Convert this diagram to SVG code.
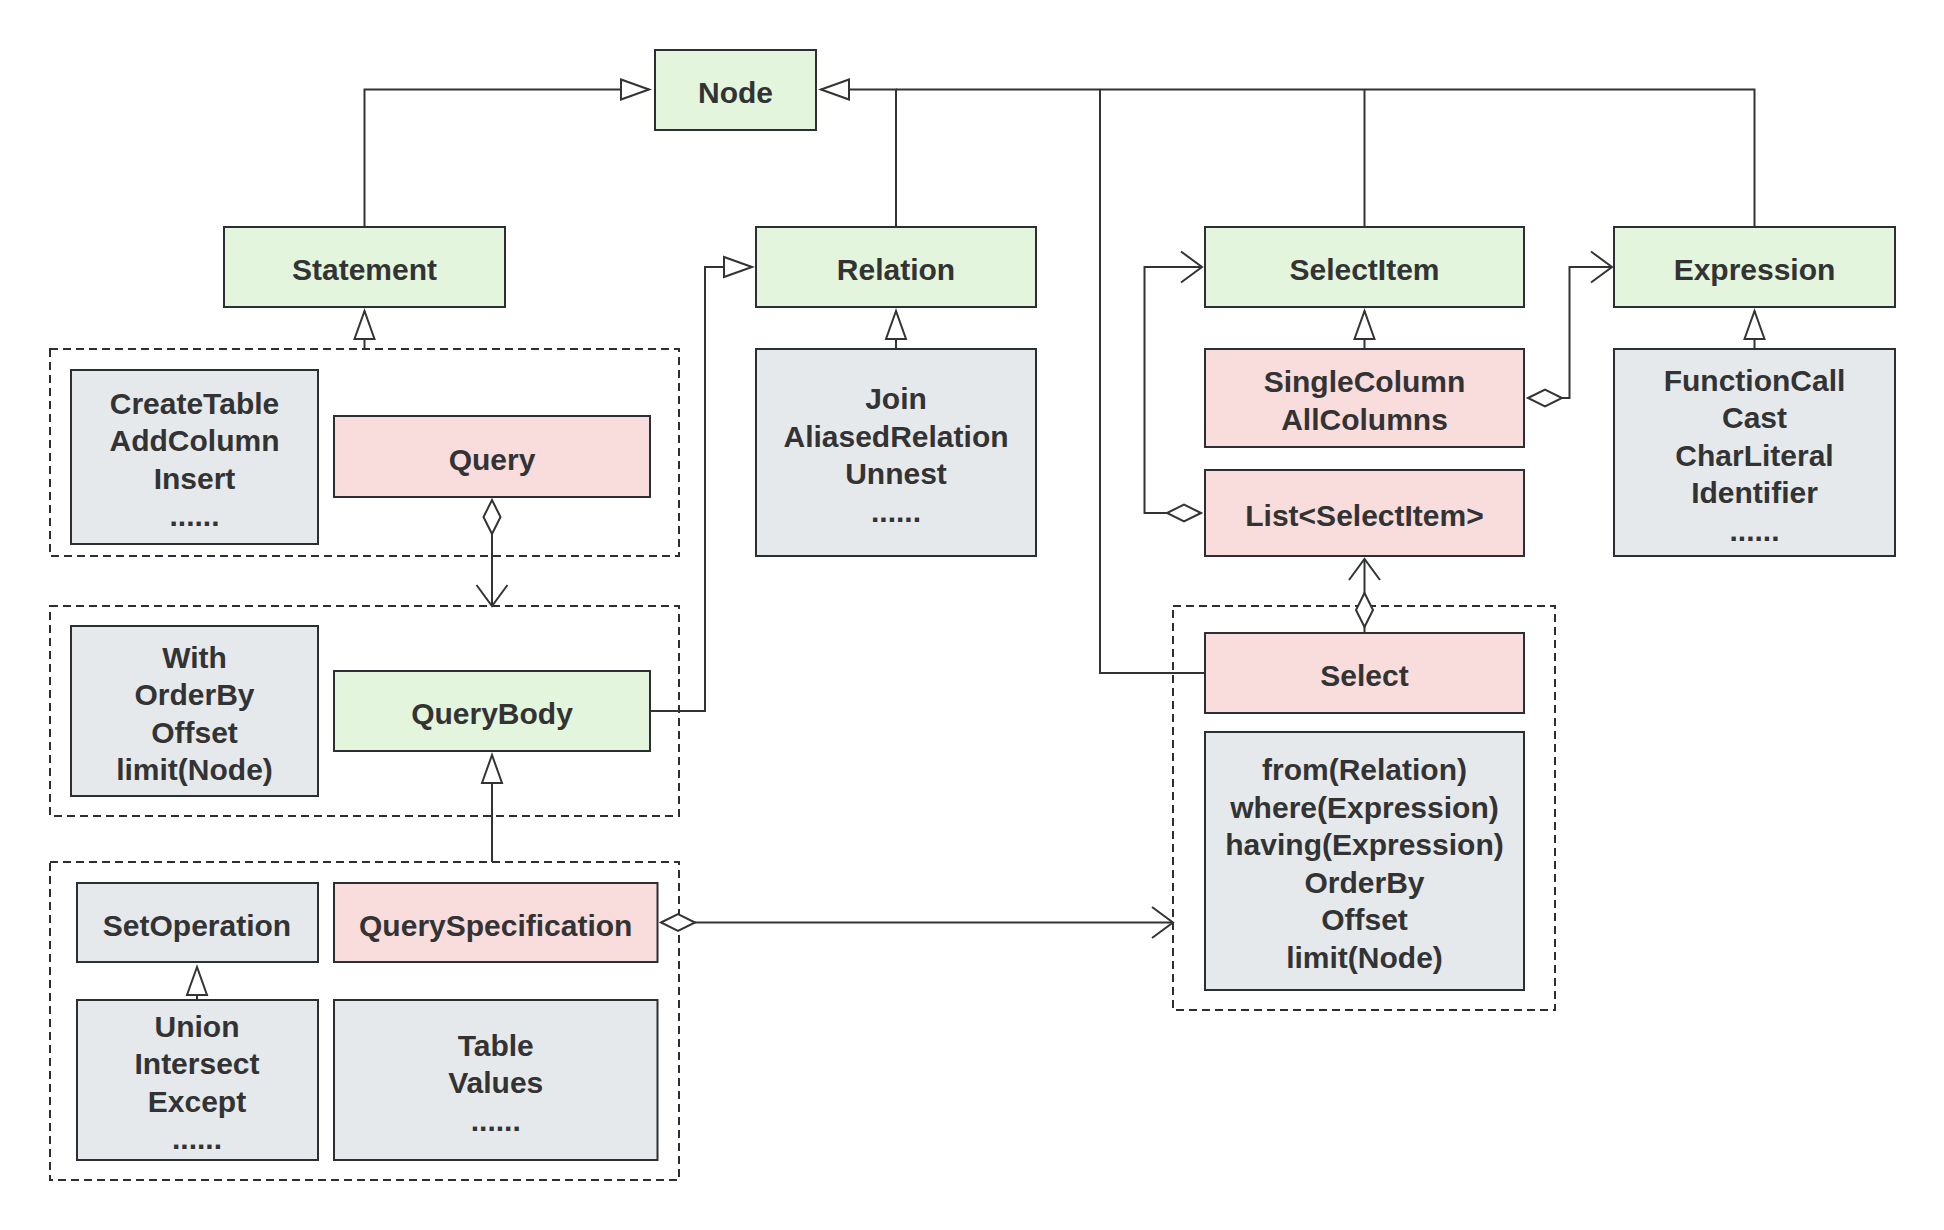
<svg xmlns="http://www.w3.org/2000/svg" width="1944" height="1230" viewBox="0 0 1944 1230">
  <style>
    .box { stroke: #2b2f33; stroke-width: 2; }
    .green { fill: #e3f5dc; }
    .pink { fill: #f9dcdc; }
    .grey { fill: #e6e9ec; }
    .group { fill: none; stroke: #2b2f33; stroke-width: 2; stroke-dasharray: 8 5; }
    text { font-family: "Liberation Sans", Arial, sans-serif; font-weight: bold; font-size: 30px; fill: #333333; text-anchor: middle; }
    .conn { fill: none; stroke: #333333; stroke-width: 2; }
  </style>
  <defs>
    <marker id="tri" markerUnits="userSpaceOnUse" orient="auto" refX="0" refY="0" markerWidth="40" markerHeight="40" overflow="visible">
      <polygon points="0,0 -28,-10 -28,10" fill="#ffffff" stroke="#333333" stroke-width="2" stroke-linejoin="miter"/>
    </marker>
    <marker id="open" markerUnits="userSpaceOnUse" orient="auto" refX="0" refY="0" markerWidth="40" markerHeight="40" overflow="visible">
      <polyline points="-21,-15.5 0,0 -21,15.5" fill="none" stroke="#333333" stroke-width="2"/>
    </marker>
    <marker id="diamond" markerUnits="userSpaceOnUse" orient="auto" refX="0" refY="0" markerWidth="40" markerHeight="40" overflow="visible">
      <polygon points="0,0 17,-8.5 34,0 17,8.5" fill="#ffffff" stroke="#333333" stroke-width="2"/>
    </marker>
  </defs>
  <rect width="1944" height="1230" fill="#ffffff"/>

  <!-- dashed containers -->
  <g id="group-statement"><rect class="group" x="50" y="349" width="629" height="207"/></g>
  <g id="group-querybody"><rect class="group" x="50" y="606" width="629" height="210"/></g>
  <g id="group-queryspec"><rect class="group" x="50" y="862" width="629" height="318"/></g>
  <g id="group-select"><rect class="group" x="1173" y="606" width="382" height="404"/></g>

  <!-- connectors -->
  <g id="connectors">
    <path class="conn" d="M364.5,227 V89.5 H649" marker-end="url(#tri)"/>
    <path class="conn" d="M896,227 V89.5 H821" marker-end="url(#tri)"/>
    <path class="conn" d="M1754.5,227 V89.5 H896"/>
    <path class="conn" d="M1364.5,227 V89.5"/>
    <path class="conn" d="M1205,673 H1100 V89.5"/>
    <path class="conn" d="M364.5,349 V311" marker-end="url(#tri)"/>
    <path class="conn" d="M896,349 V311" marker-end="url(#tri)"/>
    <path class="conn" d="M1364.5,349 V311" marker-end="url(#tri)"/>
    <path class="conn" d="M1754.5,349 V311" marker-end="url(#tri)"/>
    <path class="conn" d="M492,862 V755" marker-end="url(#tri)"/>
    <path class="conn" d="M197,1000 V967" marker-end="url(#tri)"/>
    <path class="conn" d="M650,711 H705 V267 H752" marker-end="url(#tri)"/>
    <path class="conn" d="M492,500 V606" marker-start="url(#diamond)" marker-end="url(#open)"/>
    <path class="conn" d="M661,922.5 H1173" marker-start="url(#diamond)" marker-end="url(#open)"/>
    <path class="conn" d="M1528,398 H1569.5 V267 H1612" marker-start="url(#diamond)" marker-end="url(#open)"/>
    <path class="conn" d="M1201,513 H1144.5 V267 H1202" marker-start="url(#diamond)" marker-end="url(#open)"/>
    <path class="conn" d="M1364.5,633 V627"/>
    <path class="conn" d="M1364.5,627 V559" marker-start="url(#diamond)" marker-end="url(#open)"/>
  </g>

  <!-- nodes -->
  <g id="node-Node">
    <rect class="box green" x="655" y="50" width="161" height="80"/>
    <text x="735.5" y="103">Node</text>
  </g>
  <g id="node-Statement">
    <rect class="box green" x="224" y="227" width="281" height="80"/>
    <text x="364.5" y="280">Statement</text>
  </g>
  <g id="node-Relation">
    <rect class="box green" x="756" y="227" width="280" height="80"/>
    <text x="896" y="280">Relation</text>
  </g>
  <g id="node-SelectItem">
    <rect class="box green" x="1205" y="227" width="319" height="80"/>
    <text x="1364.5" y="280">SelectItem</text>
  </g>
  <g id="node-Expression">
    <rect class="box green" x="1614" y="227" width="281" height="80"/>
    <text x="1754.5" y="280">Expression</text>
  </g>
  <g id="node-StatementKinds">
    <rect class="box grey" x="71" y="370" width="247" height="174"/>
    <text x="194.5" y="413.75">CreateTable</text>
    <text x="194.5" y="451.25">AddColumn</text>
    <text x="194.5" y="488.75">Insert</text>
    <text x="194.5" y="526.25">......</text>
  </g>
  <g id="node-Query">
    <rect class="box pink" x="334" y="416" width="316" height="81"/>
    <text x="492" y="469.5">Query</text>
  </g>
  <g id="node-RelationKinds">
    <rect class="box grey" x="756" y="349" width="280" height="207"/>
    <text x="896" y="409.25">Join</text>
    <text x="896" y="446.75">AliasedRelation</text>
    <text x="896" y="484.25">Unnest</text>
    <text x="896" y="521.75">......</text>
  </g>
  <g id="node-SingleColumn">
    <rect class="box pink" x="1205" y="349" width="319" height="98"/>
    <text x="1364.5" y="392.25">SingleColumn</text>
    <text x="1364.5" y="429.75">AllColumns</text>
  </g>
  <g id="node-ListSelectItem">
    <rect class="box pink" x="1205" y="470" width="319" height="86"/>
    <text x="1364.5" y="526">List&lt;SelectItem&gt;</text>
  </g>
  <g id="node-ExpressionKinds">
    <rect class="box grey" x="1614" y="349" width="281" height="207"/>
    <text x="1754.5" y="390.5">FunctionCall</text>
    <text x="1754.5" y="428">Cast</text>
    <text x="1754.5" y="465.5">CharLiteral</text>
    <text x="1754.5" y="503">Identifier</text>
    <text x="1754.5" y="540.5">......</text>
  </g>
  <g id="node-QueryParts">
    <rect class="box grey" x="71" y="626" width="247" height="170"/>
    <text x="194.5" y="667.75">With</text>
    <text x="194.5" y="705.25">OrderBy</text>
    <text x="194.5" y="742.75">Offset</text>
    <text x="194.5" y="780.25">limit(Node)</text>
  </g>
  <g id="node-QueryBody">
    <rect class="box green" x="334" y="671" width="316" height="80"/>
    <text x="492" y="724">QueryBody</text>
  </g>
  <g id="node-SetOperation">
    <rect class="box grey" x="77" y="883" width="241" height="79"/>
    <text x="197" y="935.5">SetOperation</text>
  </g>
  <g id="node-QuerySpecification">
    <rect class="box pink" x="334" y="883" width="323.5" height="79"/>
    <text x="495.75" y="935.5">QuerySpecification</text>
  </g>
  <g id="node-SetOperationKinds">
    <rect class="box grey" x="77" y="1000" width="241" height="160"/>
    <text x="197" y="1036.75">Union</text>
    <text x="197" y="1074.25">Intersect</text>
    <text x="197" y="1111.75">Except</text>
    <text x="197" y="1149.25">......</text>
  </g>
  <g id="node-TableValues">
    <rect class="box grey" x="334" y="1000" width="323.5" height="160"/>
    <text x="495.75" y="1055.5">Table</text>
    <text x="495.75" y="1093">Values</text>
    <text x="495.75" y="1130.5">......</text>
  </g>
  <g id="node-Select">
    <rect class="box pink" x="1205" y="633" width="319" height="80"/>
    <text x="1364.5" y="686">Select</text>
  </g>
  <g id="node-SelectParts">
    <rect class="box grey" x="1205" y="732" width="319" height="258"/>
    <text x="1364.5" y="780.25">from(Relation)</text>
    <text x="1364.5" y="817.75">where(Expression)</text>
    <text x="1364.5" y="855.25">having(Expression)</text>
    <text x="1364.5" y="892.75">OrderBy</text>
    <text x="1364.5" y="930.25">Offset</text>
    <text x="1364.5" y="967.75">limit(Node)</text>
  </g>
</svg>
